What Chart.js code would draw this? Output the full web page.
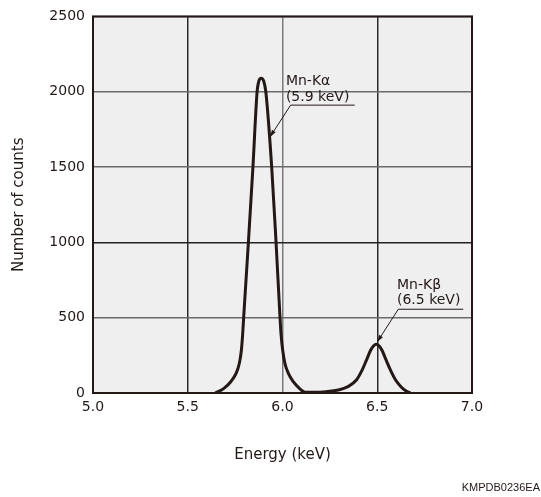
<!DOCTYPE html>
<html>
<head>
<meta charset="utf-8">
<script src="https://cdn.jsdelivr.net/npm/chart.js@4/dist/chart.umd.min.js"></script>
<style>
  html, body { margin: 0; padding: 0; background: #ffffff; }
  #wrap { width: 541px; height: 497px; position: relative; }
</style>
</head>
<body>
<div id="wrap"><canvas id="c" width="541" height="497"></canvas></div>
<script>
// ---- data ----
const energy = [5.645, 5.691, 5.727, 5.755, 5.772, 5.783, 5.790, 5.795, 5.820, 5.844, 5.866, 5.875, 5.888, 5.901, 5.912, 5.943, 5.966, 5.987, 5.992, 6.001, 6.013, 6.031, 6.057, 6.089, 6.119,
                6.17, 6.23, 6.295, 6.345, 6.39, 6.42, 6.443, 6.465, 6.48, 6.495, 6.51, 6.525, 6.547, 6.57, 6.597, 6.625, 6.652, 6.675];
const counts = [0, 31, 75, 130, 196, 284, 395, 500, 1000, 1500, 2000, 2070, 2090, 2070, 2000, 1500, 1000, 500, 395, 284, 196, 130, 75, 31, 5,
                5, 9, 20, 42, 86, 152, 218, 284, 312, 324, 312, 284, 218, 152, 86, 42, 13, 0];
const xTickValues = [5.0, 5.5, 6.0, 6.5, 7.0];
const yTickValues = [0, 500, 1000, 1500, 2000, 2500];
const peakNames = ['Mn-Kα', 'Mn-Kβ'];
const peakEnergies = ['(5.9 keV)', '(6.5 keV)'];

// annotation anchors (data coordinates)
const annotations = [
  { name: peakNames[0], energy: peakEnergies[0], textX: 6.018, base1: 2044, base2: 1938, lineY: 1911, lineX1: 6.043, lineX2: 6.381, tipX: 5.934, tipY: 1700 },
  { name: peakNames[1], energy: peakEnergies[1], textX: 6.604, base1: 692, base2: 593, lineY: 556, lineX1: 6.611, lineX2: 6.954, tipX: 6.500, tipY: 339 }
];

const points = energy.map((e, i) => ({ x: e, y: counts[i] }));
const INK = '#231815';
const FONT = "'DejaVu Sans', Verdana, sans-serif";

const framePlugin = {
  id: 'frame',
  beforeDraw(chart) {
    const { ctx, chartArea: a } = chart;
    ctx.save();
    ctx.fillStyle = '#efefef';
    ctx.fillRect(a.left, a.top, a.right - a.left, a.bottom - a.top);
    ctx.restore();
  },
  afterDatasetsDraw(chart) {
    const { ctx, chartArea: a } = chart;
    ctx.save();
    ctx.strokeStyle = INK;
    ctx.lineWidth = 2;
    ctx.strokeRect(a.left, a.top, a.right - a.left, a.bottom - a.top);
    ctx.restore();
  },
  afterDraw(chart) {
    const { ctx } = chart;
    const xs = chart.scales.x, ys = chart.scales.y;
    ctx.save();
    ctx.fillStyle = INK;
    ctx.strokeStyle = INK;
    ctx.font = '14px ' + FONT;
    ctx.textAlign = 'left';
    ctx.textBaseline = 'alphabetic';
    annotations.forEach(an => {
      const tx = xs.getPixelForValue(an.textX);
      ctx.fillText(an.name, tx, ys.getPixelForValue(an.base1));
      ctx.fillText(an.energy, tx, ys.getPixelForValue(an.base2));
      const ly = ys.getPixelForValue(an.lineY);
      const x1 = xs.getPixelForValue(an.lineX1), x2 = xs.getPixelForValue(an.lineX2);
      ctx.lineWidth = 1;
      ctx.beginPath();
      ctx.moveTo(x1, ly); ctx.lineTo(x2, ly); ctx.stroke();
      const px = xs.getPixelForValue(an.tipX), py = ys.getPixelForValue(an.tipY);
      ctx.beginPath();
      ctx.moveTo(x1, ly); ctx.lineTo(px, py); ctx.stroke();
      const ang = Math.atan2(py - ly, px - x1);
      const L = 7, W = 2.2;
      ctx.beginPath();
      ctx.moveTo(px, py);
      ctx.lineTo(px - L * Math.cos(ang) + W * Math.sin(ang), py - L * Math.sin(ang) - W * Math.cos(ang));
      ctx.lineTo(px - L * Math.cos(ang) - W * Math.sin(ang), py - L * Math.sin(ang) + W * Math.cos(ang));
      ctx.closePath();
      ctx.fill();
    });
    ctx.font = "11px 'Liberation Sans Narrow', 'Liberation Sans', sans-serif";
    ctx.textAlign = 'right';
    ctx.fillText('KMPDB0236EA', 540, 491);
    ctx.restore();
  }
};

new Chart(document.getElementById('c'), {
  type: 'scatter',
  data: {
    datasets: [{
      data: points,
      showLine: true,
      borderColor: INK,
      borderWidth: 3,
      pointRadius: 0,
      cubicInterpolationMode: 'monotone',
      fill: false
    }]
  },
  options: {
    responsive: false,
    animation: false,
    devicePixelRatio: 1,
    layout: { padding: { left: 0, right: 69, top: 15, bottom: 0 } },
    plugins: { legend: { display: false }, tooltip: { enabled: false } },
    scales: {
      x: {
        type: 'linear', min: 5, max: 7,
        afterBuildTicks(s) { s.ticks = xTickValues.map(v => ({ value: v })); },
        afterFit(s) { s.height = 104; },
        ticks: { padding: 6, color: INK, font: { family: FONT, size: 14 }, callback: v => Number(v).toFixed(1), maxRotation: 0 },
        grid: {
          drawTicks: false,
          lineWidth: 1.5,
          color: c => (c.tick && Math.abs(c.tick.value - 6.0) < 1e-6) ? '#7a7a7a' : '#2a2a2a'
        },
        border: { display: false },
        title: { display: true, text: 'Energy (keV)', color: INK, font: { family: FONT, size: 15 }, padding: { top: 0, bottom: 33 } }
      },
      y: {
        type: 'linear', min: 0, max: 2500,
        afterBuildTicks(s) { s.ticks = yTickValues.map(v => ({ value: v })); },
        afterFit(s) { s.width = 93; },
        ticks: { padding: 8, color: INK, font: { family: FONT, size: 14 }, callback: v => String(v) },
        grid: {
          drawTicks: false,
          lineWidth: 1.5,
          color: c => (c.tick && c.tick.value === 1000) ? '#222222' : '#6a6a6a'
        },
        border: { display: false },
        title: { display: true, text: 'Number of counts', color: INK, font: { family: FONT, size: 15 }, padding: { top: 10, bottom: 0 } }
      }
    }
  },
  plugins: [framePlugin]
});
</script>
</body>
</html>
